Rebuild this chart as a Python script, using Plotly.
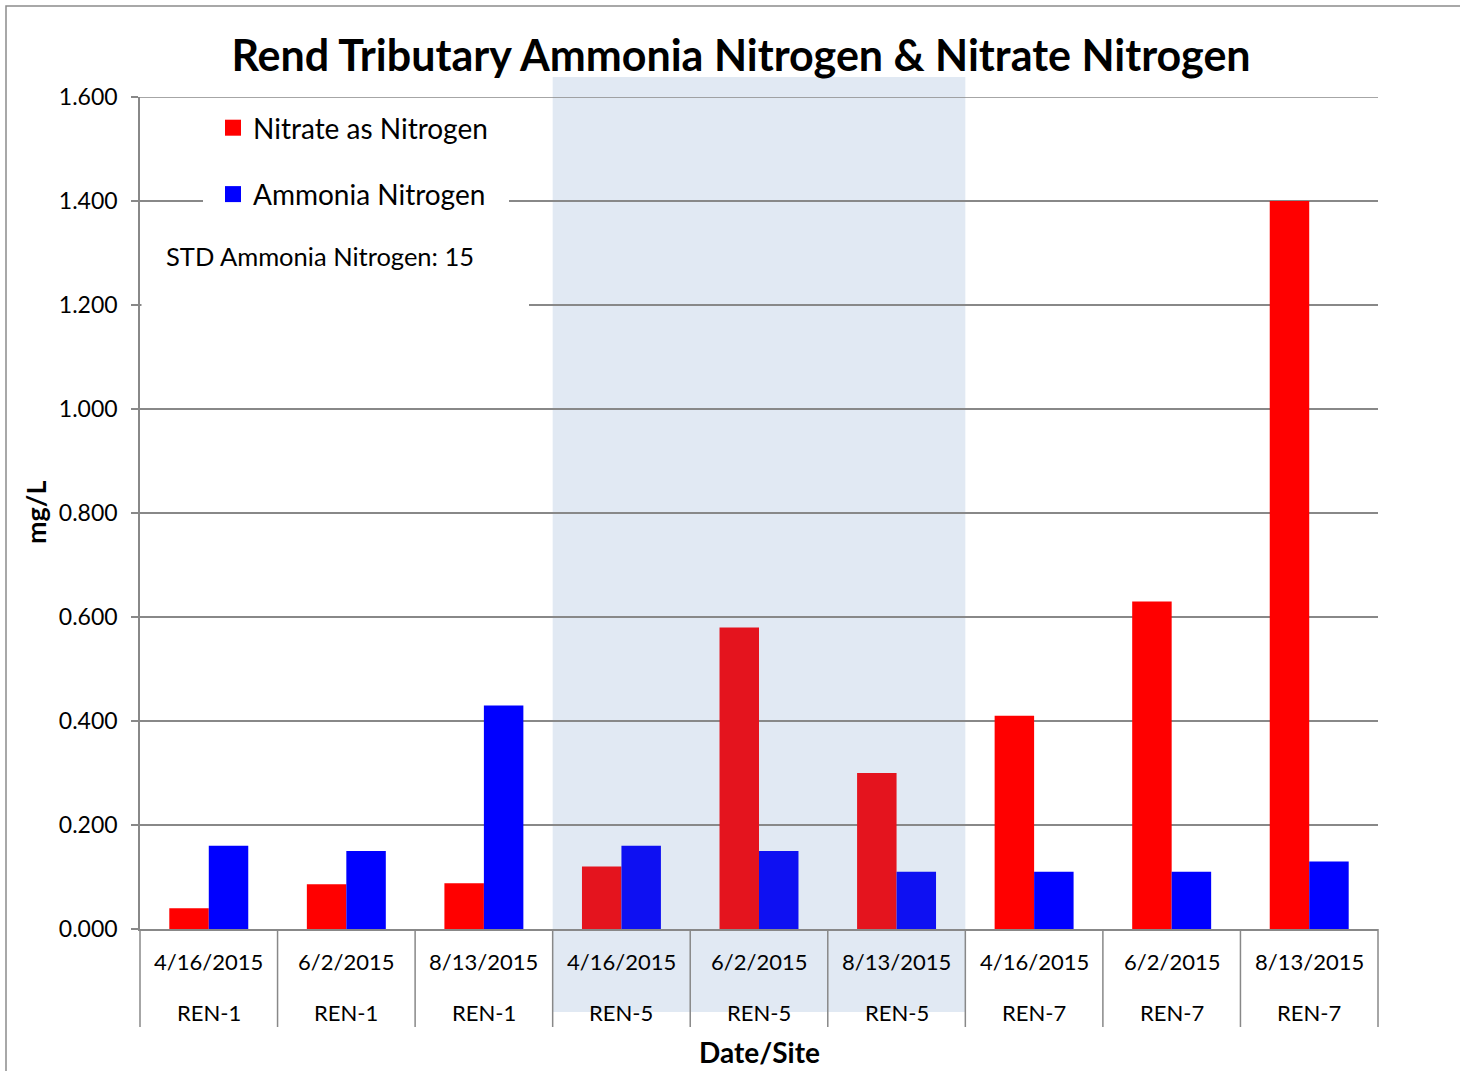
import plotly.graph_objects as go

# ---- data ----
dates = ["4/16/2015", "6/2/2015", "8/13/2015",
         "4/16/2015", "6/2/2015", "8/13/2015",
         "4/16/2015", "6/2/2015", "8/13/2015"]
sites = ["REN-1", "REN-1", "REN-1",
         "REN-5", "REN-5", "REN-5",
         "REN-7", "REN-7", "REN-7"]
nitrate = [0.040, 0.086, 0.088, 0.120, 0.580, 0.300, 0.410, 0.630, 1.400]
ammonia = [0.160, 0.150, 0.430, 0.160, 0.150, 0.110, 0.110, 0.110, 0.130]
y_ticks = [0.0, 0.2, 0.4, 0.6, 0.8, 1.0, 1.2, 1.4, 1.6]
highlight_site = "REN-5"

FONT = "Lato"
W, H = 1460, 1071
L, R, T, B = 140, 1378, 97, 929
GRID = "#888888"

def px(xp):
    return (xp - L) / (R - L)

def py(yp):
    return (B - yp) / (B - T)

pos = list(range(len(dates)))
red_cols = ["#E4141E" if s == highlight_site else "#FF0000" for s in sites]
blue_cols = ["#0E10F2" if s == highlight_site else "#0000FF" for s in sites]

fig = go.Figure()
fig.add_trace(go.Bar(x=pos, y=nitrate, name="Nitrate as Nitrogen",
                     marker=dict(color=red_cols, line=dict(width=0)),
                     showlegend=False, legendgroup="n"))
fig.add_trace(go.Bar(x=pos, y=ammonia, name="Ammonia Nitrogen",
                     marker=dict(color=blue_cols, line=dict(width=0)),
                     showlegend=False, legendgroup="a"))
# legend proxies (square markers)
fig.add_trace(go.Scatter(x=[None], y=[None], mode="markers", name="Nitrate as Nitrogen",
                         marker=dict(symbol="square", size=16, color="#FF0000"),
                         legendgroup="n"))
fig.add_trace(go.Scatter(x=[None], y=[None], mode="markers", name="Ammonia Nitrogen",
                         marker=dict(symbol="square", size=16, color="#0000FF"),
                         legendgroup="a"))

shapes = []
# outer chart frame
shapes.append(dict(type="rect", xref="paper", yref="paper",
                   x0=px(6), x1=px(1480), y0=py(1090), y1=py(6),
                   line=dict(color="#8C8C8C", width=1.5), layer="below"))
# highlighted band (REN-5)
idx5 = [i for i, s in enumerate(sites) if s == highlight_site]
x_lo = (min(idx5) - 0.5 + 0.5) / len(dates)
x_hi = (max(idx5) + 0.5 + 0.5) / len(dates)
shapes.append(dict(type="rect", xref="paper", yref="paper",
                   x0=x_lo, x1=x_hi, y0=py(1012), y1=py(77),
                   fillcolor="#E1E9F3", line=dict(width=0), layer="below"))
# white boxes for legend and text box (hide gridlines)
shapes.append(dict(type="rect", xref="paper", yref="paper",
                   x0=px(203), x1=px(509), y0=py(205), y1=py(98.5),
                   fillcolor="white", line=dict(width=0), layer="above"))
shapes.append(dict(type="rect", xref="paper", yref="paper",
                   x0=px(141.5), x1=px(529), y0=py(312), y1=py(216),
                   fillcolor="white", line=dict(width=0), layer="above"))
# top gridline (at the range edge)
shapes.append(dict(type="line", xref="paper", yref="y",
                   x0=0, x1=1, y0=y_ticks[-1], y1=y_ticks[-1],
                   line=dict(color=GRID, width=1.5), layer="above"))
# category dividers below the axis
for k in range(len(dates) + 1):
    xv = k / len(dates)
    shapes.append(dict(type="line", xref="paper", yref="paper",
                       x0=xv, x1=xv, y0=py(1027), y1=py(929),
                       line=dict(color=GRID, width=1.5), layer="above"))

annotations = []
for i in pos:
    annotations.append(dict(x=i, y=py(962), xref="x", yref="paper", text=dates[i],
                            showarrow=False, font=dict(family=FONT, size=22, color="black"),
                            xanchor="center", yanchor="middle"))
    annotations.append(dict(x=i, y=py(1012), xref="x", yref="paper", text=sites[i],
                            showarrow=False, font=dict(family=FONT, size=22, color="black"),
                            xanchor="center", yanchor="middle"))
annotations.append(dict(x=px(759), y=py(1052), xref="paper", yref="paper", text="<b>Date/Site</b>",
                        showarrow=False, font=dict(family=FONT, size=28, color="black"),
                        xanchor="center", yanchor="middle"))
annotations.append(dict(x=px(35), y=py(513), xref="paper", yref="paper", text="<b>mg/L</b>",
                        showarrow=False, textangle=-90, font=dict(family=FONT, size=27, color="black"),
                        xanchor="center", yanchor="middle"))
annotations.append(dict(x=px(164), y=py(256), xref="paper", yref="paper",
                        text="STD Ammonia Nitrogen: 15",
                        showarrow=False, font=dict(family=FONT, size=25.5, color="black"),
                        xanchor="left", yanchor="middle"))

fig.update_layout(
    width=W, height=H,
    margin=dict(l=L, r=W - R, t=T, b=H - B, pad=0),
    paper_bgcolor="white", plot_bgcolor="rgba(0,0,0,0)",
    barmode="group", bargap=0.426, bargroupgap=0,
    font=dict(family=FONT, color="black"),
    title=dict(text="<b>Rend Tributary Ammonia Nitrogen &amp; Nitrate Nitrogen</b>",
               x=px(741), xref="paper", xanchor="center",
               y=1 - 56 / H, yref="container", yanchor="middle",
               font=dict(family=FONT, size=43, color="black")),
    legend=dict(x=px(213), y=py(103), xanchor="left", yanchor="top",
                bgcolor="rgba(0,0,0,0)", borderwidth=0,
                font=dict(family=FONT, size=28, color="black"),
                tracegroupgap=27, traceorder="grouped"),
    shapes=shapes, annotations=annotations,
)
fig.update_xaxes(range=[-0.5, len(dates) - 0.5], showticklabels=False, ticks="",
                 showgrid=False, zeroline=False, showline=True,
                 linecolor=GRID, linewidth=1.5, fixedrange=True)
fig.update_yaxes(range=[0, 1.6], tickvals=y_ticks, tickformat=".3f",
                 ticks="outside", ticklen=7, tickcolor=GRID, tickwidth=1.5,
                 showgrid=True, gridcolor=GRID, gridwidth=1.5,
                 zeroline=False, showline=True, linecolor=GRID, linewidth=1.5,
                 tickfont=dict(family=FONT, size=23, color="black"), ticklabelstandoff=9)

fig.write_html("out.html", config={"displayModeBar": False},
               post_script="document.body.style.margin='0px';document.body.style.overflow='hidden';")
